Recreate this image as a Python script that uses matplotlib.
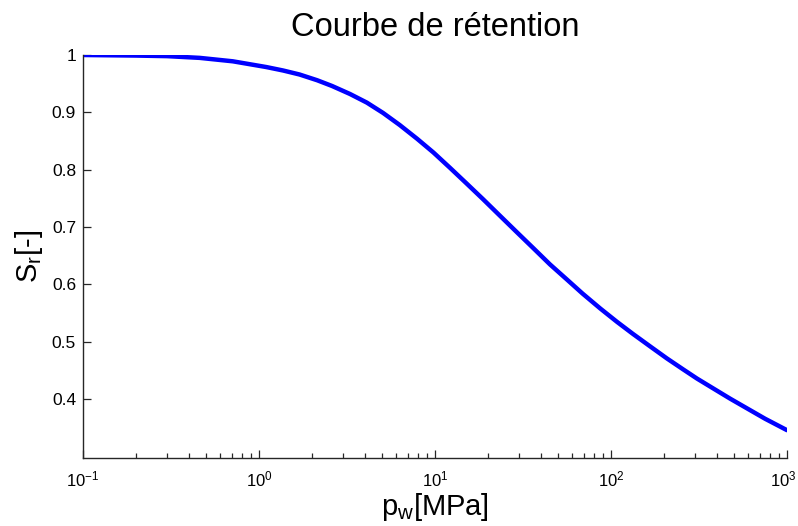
import matplotlib
matplotlib.use("Agg")
import matplotlib.pyplot as plt
from matplotlib.ticker import FuncFormatter
from matplotlib.transforms import ScaledTranslation

# values
pw = [0.1, 0.2, 0.3, 0.46, 0.71, 1.1, 1.37, 1.7, 2.14, 2.6, 3.29, 4.1, 5.07,
      6.3, 7.91, 9.8, 12.2, 15, 18.7, 23, 29.2, 36, 45, 56, 69, 87, 108,
      133, 167, 208, 257, 308, 380, 475, 593, 750, 1000]
sr = [1.000, 0.999, 0.998, 0.995, 0.989, 0.979, 0.973, 0.966, 0.956, 0.946,
      0.932, 0.917, 0.899, 0.878, 0.854, 0.830, 0.803, 0.777, 0.749, 0.722,
      0.691, 0.664, 0.635, 0.609, 0.584, 0.558, 0.535, 0.514, 0.492, 0.471,
      0.452, 0.436, 0.419, 0.401, 0.384, 0.366, 0.346]
yticks = [0.4, 0.5, 0.6, 0.7, 0.8, 0.9, 1.0]

plt.rcParams['font.family'] = ['Liberation Sans', 'DejaVu Sans']
plt.rcParams['mathtext.fontset'] = 'custom'
plt.rcParams['mathtext.rm'] = 'Liberation Sans'
plt.rcParams['mathtext.it'] = 'Liberation Sans'
plt.rcParams['mathtext.default'] = 'regular'

fig = plt.figure(figsize=(7.98, 5.26), dpi=100)
ax = fig.add_axes([83/798, 1 - 458.3/526, 704/798, (458.3 - 55)/526])

ax.semilogx(pw, sr, color=(0, 0, 1), lw=3.2, solid_capstyle='round',
            solid_joinstyle='round')

ax.set_xlim(0.1, 1000)
ax.set_ylim(0.297, 1.0)
ax.set_yticks(yticks)
ax.yaxis.set_major_formatter(FuncFormatter(lambda v, p: '%g' % v))

for s in ['top', 'right']:
    ax.spines[s].set_visible(False)
for s in ['left', 'bottom']:
    ax.spines[s].set_color('#262626')
    ax.spines[s].set_linewidth(1.0)

ax.tick_params(which='major', direction='in', length=5.5, width=0.9,
               color='#262626', labelsize=12.5, pad=5)
ax.tick_params(axis='x', which='major', labelsize=12, pad=8)
ax.tick_params(which='minor', direction='in', length=3.3, width=0.9,
               color='#262626')
ax.tick_params(axis='y', which='minor', left=False)

ax.set_title('Courbe de rétention', fontsize=23.5, pad=14)
ax.set_xlabel('p$_w$[MPa]', fontsize=21, labelpad=1)
ax.set_ylabel('S$_r$[-]', fontsize=21, labelpad=5)

# nudge the last x label so it stays inside the figure
fig.canvas.draw()
for t in ax.xaxis.get_major_ticks():
    if abs(t.get_loc() - 1000) < 1:
        t.label1.set_transform(t.label1.get_transform() +
                               ScaledTranslation(-0.035, 0, fig.dpi_scale_trans))

fig.savefig('out.png', dpi=100)
